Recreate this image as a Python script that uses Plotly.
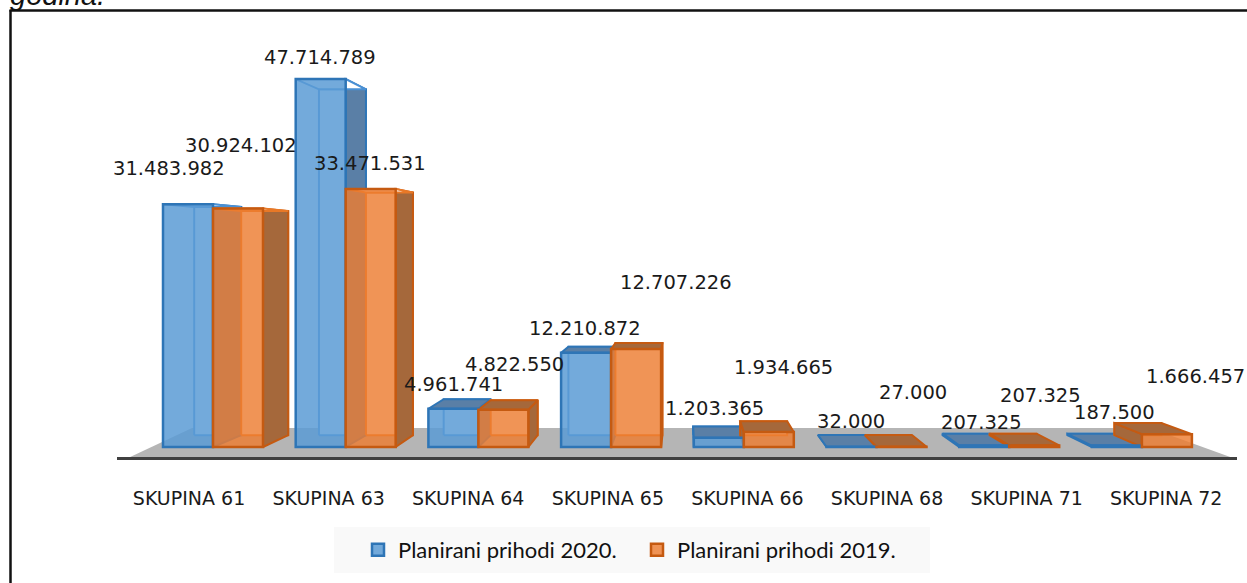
import plotly.graph_objects as go

W, H = 1247, 583

categories = ["SKUPINA 61", "SKUPINA 63", "SKUPINA 64", "SKUPINA 65",
              "SKUPINA 66", "SKUPINA 68", "SKUPINA 71", "SKUPINA 72"]
plan_2020 = [31483982, 47714789, 4961741, 12210872, 1203365, 32000, 207325, 187500]
plan_2019 = [30924102, 33471531, 4822550, 12707226, 1934665, 27000, 207325, 1666457]
names = ["Planirani prihodi 2020.", "Planirani prihodi 2019."]

# label offsets from the bar's top centre (style, in screen pixels)
dx_2020 = [-19, -1, 0, -1, -4, -1, -3, -2]
dy_2020 = [36, 22, 24, 24, 29, 25, 23, 33]
dx_2019 = [3, -1, 11, 40, 15, 11, 6, 29]
dy_2019 = [63, 25, 45, 67, 65, 54, 50, 58]

# axis scales
PX_PER_CAT = 132.7
PX_PER_VAL = 7.71e-6
X0_PX, Y0_PX = 213.0, 447.0
x_range = [(0 - X0_PX) / PX_PER_CAT, (W - X0_PX) / PX_PER_CAT]
y_range = [(Y0_PX - H) / PX_PER_VAL, Y0_PX / PX_PER_VAL]
BAR_W = 50 / PX_PER_CAT

# perspective for the depth faces
VX = (683 - X0_PX) / PX_PER_CAT
VY = (Y0_PX - 250) / PX_PER_VAL
S = 0.94


def back(x, y):
    return VX + S * (x - VX), VY + S * (y - VY)


def poly(pts, fill, line, width=2):
    xs = [p[0] for p in pts] + [pts[0][0]]
    ys = [p[1] for p in pts] + [pts[0][1]]
    return go.Scatter(x=xs, y=ys, mode="lines", fill="toself", fillcolor=fill,
                      line=dict(color=line, width=width), hoverinfo="skip",
                      showlegend=False, xaxis="x", yaxis="y")


series = [
    dict(vals=plan_2020, off=-BAR_W, fill="rgba(91,155,213,0.85)", line="#2e75b6",
         inner="#4a90d4", dark="#5a7fa6"),
    dict(vals=plan_2019, off=0.0, fill="rgba(237,125,49,0.82)", line="#c55a11",
         inner="#e87826", dark="#a5683b"),
]

fig = go.Figure()

# floor
floor_front_y = (Y0_PX - 458) / PX_PER_VAL
floor_back_y = (Y0_PX - 428) / PX_PER_VAL
fig.add_trace(poly([((128 - X0_PX) / PX_PER_CAT, floor_front_y),
                    ((1233 - X0_PX) / PX_PER_CAT, floor_front_y),
                    ((1150 - X0_PX) / PX_PER_CAT, floor_back_y),
                    ((192 - X0_PX) / PX_PER_CAT, floor_back_y)],
                   "#b5b5b5", "#b5b5b5", 0))

# depth faces
for s in series:
    for i, v in enumerate(s["vals"]):
        xl, xr = i + s["off"], i + s["off"] + BAR_W
        bl, b0 = back(xl, 0)
        br, _ = back(xr, 0)
        _, bt = back(xl, v)
        # back wall + floor face
        fig.add_trace(poly([(bl, b0), (br, b0), (br, bt), (bl, bt)], "white", s["inner"]))
        # side wall, on whichever side faces the viewer
        if bl > xl:
            fig.add_trace(poly([(xr, 0), (br, b0), (br, bt), (xr, v)], s["dark"], s["line"]))
        else:
            fig.add_trace(poly([(xl, 0), (bl, b0), (bl, bt), (xl, v)], s["dark"], s["line"]))
        # top lid: dark when seen from above, only outlined when it is above eye level
        lid_fill = "white" if v > VY else s["dark"]
        lid_line = s["inner"] if v > VY else s["line"]
        fig.add_trace(poly([(xl, v), (xr, v), (br, bt), (bl, bt)], lid_fill, lid_line))

# tick-label axis
fig.add_trace(go.Scatter(x=categories, y=[0] * 8, mode="none", xaxis="x2", yaxis="y",
                         showlegend=False, hoverinfo="skip"))

# front faces
for s, nm in zip(series, names):
    fig.add_trace(go.Bar(x=list(range(8)), y=s["vals"], width=BAR_W, offset=s["off"], name=nm,
                         marker=dict(color=s["fill"], line=dict(color=s["line"], width=2.5)),
                         xaxis="x3", yaxis="y3"))


def fmt(v):
    return f"{v:,}".replace(",", ".")


ann = []
for s, dxs, dys in ((series[0], dx_2020, dy_2020), (series[1], dx_2019, dy_2019)):
    for i, v in enumerate(s["vals"]):
        ann.append(dict(x=i + s["off"] + BAR_W / 2, y=v, xref="x3", yref="y3", text=fmt(v),
                        showarrow=False, xshift=dxs[i], yshift=dys[i], xanchor="center",
                        yanchor="middle", font=dict(family="DejaVu Sans", size=19.5, color="#1a1a1a")))
ann.append(dict(x=8 / W, y=1 + 5 / H, xref="paper", yref="paper", text="<i>godina.</i>", showarrow=False,
                xanchor="left", yanchor="middle", font=dict(family="Liberation Sans", size=29, color="#111")))

fig.update_layout(
    width=W, height=H, margin=dict(l=0, r=0, t=0, b=0),
    paper_bgcolor="white", plot_bgcolor="rgba(0,0,0,0)",
    xaxis=dict(range=x_range, visible=False, domain=[0, 1]),
    yaxis=dict(range=y_range, visible=False, domain=[0, 1]),
    xaxis3=dict(range=x_range, visible=False, overlaying="x", anchor="y3"),
    yaxis3=dict(range=y_range, visible=False, overlaying="y", anchor="x3"),
    xaxis2=dict(type="category", categoryorder="array", categoryarray=categories,
                domain=[117 / W, 1237 / W], range=[-0.516, 7.507], anchor="free",
                position=(H - 458) / H, showline=True, linewidth=3, linecolor="#404040",
                ticks="outside", ticklen=22, tickcolor="rgba(0,0,0,0)", showgrid=False,
                zeroline=False, tickfont=dict(family="DejaVu Sans", size=19, color="#1a1a1a")),
    barmode="overlay", showlegend=True,
    legend=dict(orientation="h", x=358 / W, y=1 - 550 / H, xanchor="left", yanchor="middle",
                bgcolor="rgba(0,0,0,0)", font=dict(family="Lato", size=22, color="#111"),
                traceorder="normal", entrywidth=234, entrywidthmode="pixels"),
    shapes=[
        dict(type="rect", xref="paper", yref="paper", x0=334 / W, x1=930 / W,
             y0=1 - 573 / H, y1=1 - 527 / H, fillcolor="#f9f9f9", line=dict(width=0), layer="below"),
        dict(type="line", xref="paper", yref="paper", x0=10.5 / W, x1=10.5 / W, y0=0, y1=1 - 10 / H,
             line=dict(color="#111", width=2.5)),
        dict(type="line", xref="paper", yref="paper", x0=9.5 / W, x1=1, y0=1 - 10.5 / H, y1=1 - 10.5 / H,
             line=dict(color="#111", width=2.5)),
    ],
    annotations=ann,
)

fig.write_html("out.html", config={"displayModeBar": False},
               post_script="document.body.style.margin='0';document.documentElement.style.overflow='hidden';")
